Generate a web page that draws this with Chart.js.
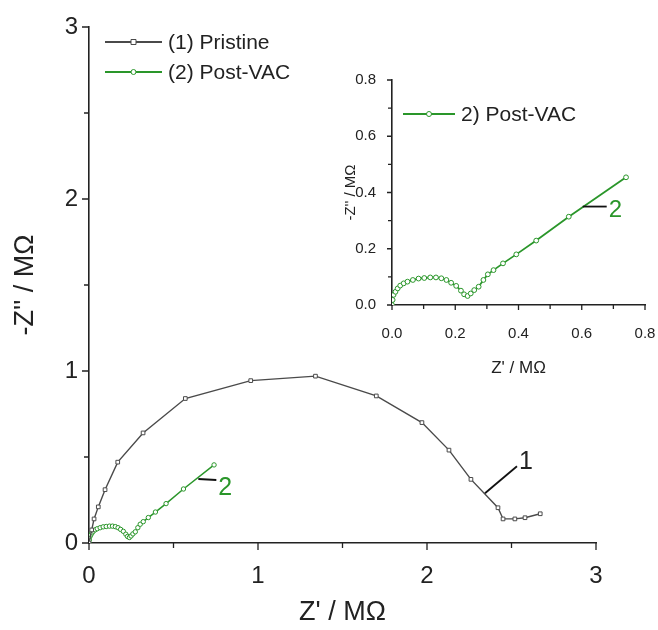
<!DOCTYPE html>
<html>
<head>
<meta charset="utf-8">
<script src="https://cdn.jsdelivr.net/npm/chart.js@4.4.0/dist/chart.umd.min.js"></script>
<style>
  html, body { margin: 0; padding: 0; background: #fff; }
  #wrap { position: relative; width: 658px; height: 630px; }
  #main { position: absolute; left: 0; top: 0; }
  #inset { position: absolute; left: 340px; top: 55px; }
</style>
</head>
<body>
<div id="wrap">
  <canvas id="main" width="658" height="630"></canvas>
  <canvas id="inset" width="318" height="330"></canvas>
</div>
<script>
// Nyquist data (MOhm)
const pristineRe = [0, 0.016, 0.03, 0.055, 0.095, 0.17, 0.32, 0.57, 0.957, 1.34, 1.70, 1.97, 2.13, 2.26, 2.42, 2.45, 2.52, 2.58, 2.67];
const pristineIm = [0, 0.076, 0.14, 0.21, 0.31, 0.47, 0.64, 0.84, 0.944, 0.97, 0.855, 0.70, 0.54, 0.37, 0.205, 0.14, 0.14, 0.147, 0.17];

const postRe = [0, 0.002, 0.005, 0.011, 0.018, 0.026, 0.037, 0.049, 0.066, 0.084, 0.102, 0.121, 0.139, 0.156, 0.172, 0.187, 0.203, 0.218, 0.228, 0.239, 0.249, 0.26, 0.274, 0.289, 0.303, 0.321, 0.351, 0.393, 0.456, 0.559, 0.74];
const postIm = [0, 0.018, 0.036, 0.047, 0.059, 0.069, 0.077, 0.083, 0.089, 0.094, 0.096, 0.098, 0.098, 0.095, 0.089, 0.079, 0.068, 0.051, 0.038, 0.032, 0.041, 0.053, 0.065, 0.089, 0.109, 0.124, 0.148, 0.18, 0.229, 0.314, 0.454];

const mainXTicks = [0, 1, 2, 3];
const mainYTicks = [0, 1, 2, 3];
const insetTicks = [0, 0.2, 0.4, 0.6, 0.8];

const FONT = '"Liberation Sans", Arial, Helvetica, sans-serif';
const INK = '#222';
const GRAY = '#4a4a4a';
const GREEN = '#2a962a';

function pts(xs, ys) {
  return xs.map(function (x, i) { return { x: x, y: ys[i] }; });
}

// small tick marks pointing out of the plot, majors a bit longer
const tickMarks = {
  id: 'tickMarks',
  afterDraw(chart, args, o) {
    const ctx = chart.ctx;
    const xs = chart.scales.x, ys = chart.scales.y;
    const a = chart.chartArea;
    ctx.save();
    ctx.strokeStyle = INK;
    ctx.lineWidth = 1.3;
    const n = Math.round(o.max / o.minor);
    for (let i = 0; i <= n; i++) {
      const v = i * o.minor;
      const len = i % o.every === 0 ? o.major : o.short;
      const px = xs.getPixelForValue(v);
      const py = ys.getPixelForValue(v);
      ctx.beginPath();
      ctx.moveTo(px, a.bottom);
      ctx.lineTo(px, a.bottom + len);
      ctx.moveTo(a.left, py);
      ctx.lineTo(a.left - len, py);
      ctx.stroke();
    }
    ctx.restore();
  }
};

// legend entries drawn like the original (line + marker + text)
const lineLegend = {
  id: 'lineLegend',
  afterDraw(chart, args, o) {
    const ctx = chart.ctx;
    ctx.save();
    o.items.forEach(function (it, i) {
      const ds = chart.data.datasets[it.ds];
      const y = o.y + i * o.gap;
      ctx.strokeStyle = ds.borderColor;
      ctx.lineWidth = 1.8;
      ctx.beginPath();
      ctx.moveTo(o.x, y);
      ctx.lineTo(o.x + o.len, y);
      ctx.stroke();
      ctx.fillStyle = '#fff';
      ctx.lineWidth = 1;
      ctx.beginPath();
      if (ds.pointStyle === 'rect') {
        ctx.rect(o.x + o.len / 2 - 2.5, y - 2.5, 5, 5);
      } else {
        ctx.arc(o.x + o.len / 2, y, 2.5, 0, Math.PI * 2);
      }
      ctx.fill();
      ctx.stroke();
      ctx.fillStyle = INK;
      ctx.font = o.size + 'px ' + FONT;
      ctx.textBaseline = 'middle';
      ctx.textAlign = 'left';
      ctx.fillText(it.text, o.x + o.len + 6, y + 1);
    });
    ctx.restore();
  }
};

// curve labels "1" and "2" with their leader lines
const callouts = {
  id: 'callouts',
  afterDatasetsDraw(chart, args, o) {
    const ctx = chart.ctx;
    const xs = chart.scales.x, ys = chart.scales.y;
    ctx.save();
    o.items.forEach(function (c) {
      const px = xs.getPixelForValue(c.x);
      const py = ys.getPixelForValue(c.y);
      ctx.strokeStyle = '#111';
      ctx.lineWidth = 1.8;
      ctx.beginPath();
      ctx.moveTo(px, py);
      ctx.lineTo(px + c.dx, py + c.dy);
      ctx.stroke();
      ctx.fillStyle = c.color;
      ctx.font = c.size + 'px ' + FONT;
      ctx.textBaseline = 'middle';
      ctx.textAlign = 'left';
      ctx.fillText(c.text, px + c.dx + c.tx, py + c.dy + c.ty);
    });
    ctx.restore();
  }
};

function axis(min, max, step, fmt, size, fit, title, titleSize, pad, titlePad) {
  return {
    type: 'linear',
    min: min,
    max: max,
    afterFit: function (s) {
      fit(s);
      s.paddingLeft = 0;
      s.paddingRight = 0;
      s.paddingTop = 0;
      s.paddingBottom = 0;
    },
    afterBuildTicks: function (s) {
      s.ticks = step.map(function (v) { return { value: v }; });
    },
    ticks: {
      color: INK,
      font: { size: size, family: FONT },
      padding: pad,
      maxRotation: 0,
      callback: fmt
    },
    grid: { display: false },
    border: { display: true, color: INK, width: 1.6 },
    title: {
      display: true,
      text: title,
      color: INK,
      font: { size: titleSize, family: FONT },
      padding: titlePad
    }
  };
}

new Chart(document.getElementById('main'), {
  type: 'scatter',
  data: {
    datasets: [
      {
        label: '(1) Pristine',
        data: pts(pristineRe, pristineIm),
        showLine: true,
        borderColor: GRAY,
        borderWidth: 1.4,
        pointStyle: 'rect',
        pointRadius: 2.6,
        pointBorderWidth: 1,
        pointBackgroundColor: '#fff',
        pointBorderColor: GRAY,
        tension: 0
      },
      {
        label: '(2) Post-VAC',
        data: pts(postRe, postIm),
        showLine: true,
        borderColor: GREEN,
        borderWidth: 1.5,
        pointStyle: 'circle',
        pointRadius: 2.2,
        pointBorderWidth: 1,
        pointBackgroundColor: '#fff',
        pointBorderColor: GREEN,
        tension: 0
      }
    ]
  },
  options: {
    responsive: false,
    animation: false,
    layout: { padding: { left: 0, right: 62, top: 27, bottom: 0 } },
    scales: {
      x: axis(0, 3, mainXTicks, function (v) { return v; }, 24,
        function (s) { s.height = 87; }, "Z' / M\u03A9", 27, 11, { top: 4, bottom: 1 }),
      y: axis(0, 3, mainYTicks, function (v) { return v; }, 24,
        function (s) { s.width = 89; }, "-Z'' / M\u03A9", 27, 3, { top: 9, bottom: 0 })
    },
    plugins: {
      legend: { display: false },
      tooltip: { enabled: false },
      tickMarks: { max: 3, minor: 0.5, every: 2, major: 7, short: 5 },
      lineLegend: {
        x: 105, y: 42, gap: 30, len: 57, size: 21,
        items: [{ ds: 0, text: '(1) Pristine' }, { ds: 1, text: '(2) Post-VAC' }]
      },
      callouts: {
        items: [
          { x: 2.343, y: 0.289, dx: 32, dy: -27, tx: 2, ty: -4, text: '1', color: INK, size: 25 },
          { x: 0.647, y: 0.372, dx: 18, dy: 1, tx: 2, ty: 8, text: '2', color: GREEN, size: 25 }
        ]
      }
    }
  },
  plugins: [tickMarks, lineLegend, callouts]
});

new Chart(document.getElementById('inset'), {
  type: 'scatter',
  data: {
    datasets: [
      {
        label: '2) Post-VAC',
        data: pts(postRe, postIm),
        showLine: true,
        borderColor: GREEN,
        borderWidth: 1.8,
        pointStyle: 'circle',
        pointRadius: 2.4,
        pointBorderWidth: 1,
        pointBackgroundColor: '#fff',
        pointBorderColor: GREEN,
        tension: 0
      }
    ]
  },
  options: {
    responsive: false,
    animation: false,
    layout: { padding: { left: 0, right: 13, top: 25, bottom: 0 } },
    scales: {
      x: axis(0, 0.8, insetTicks, function (v) { return v.toFixed(1); }, 15,
        function (s) { s.height = 80; }, "Z' / M\u03A9", 17, 12, { top: 6, bottom: 6 }),
      y: axis(0, 0.8, insetTicks, function (v) { return v.toFixed(1); }, 15,
        function (s) { s.width = 52; }, "-Z'' / M\u03A9", 15, 8, { top: 2, bottom: 0 })
    },
    plugins: {
      legend: { display: false },
      tooltip: { enabled: false },
      tickMarks: { max: 0.8, minor: 0.1, every: 2, major: 5, short: 4 },
      lineLegend: {
        x: 63, y: 59, gap: 30, len: 52, size: 21,
        items: [{ ds: 0, text: '2) Post-VAC' }]
      },
      callouts: {
        items: [
          { x: 0.603, y: 0.35, dx: 24, dy: 0, tx: 2, ty: 4, text: '2', color: GREEN, size: 24 }
        ]
      }
    }
  },
  plugins: [tickMarks, lineLegend, callouts]
});
</script>
</body>
</html>
